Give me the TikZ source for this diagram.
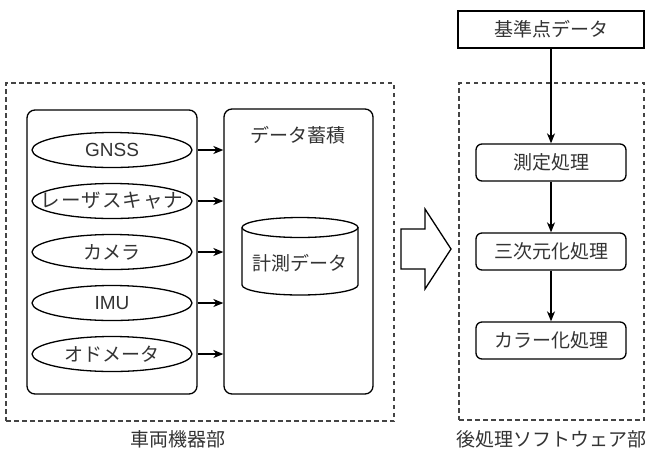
\documentclass[tikz,border=0pt]{standalone}
\usepackage{fontspec}
\setmainfont{Noto Sans CJK JP}
\newfontfamily\latinfont{Liberation Sans}
\usetikzlibrary{arrows.meta,shapes.geometric}
\definecolor{ink}{HTML}{333333}
\definecolor{dashc}{HTML}{444444}
\begin{document}
\begin{tikzpicture}[x=1pt,y=-1pt,
  every node/.style={font=\fontsize{19}{21}\selectfont, text=ink, inner sep=0pt},
  grp/.style={draw=dashc, line width=1.3pt, dash pattern=on 4.5pt off 3.5pt},
  bigbox/.style={draw, line width=1.3pt, rounded corners=8pt},
  ell/.style={line width=1.3pt},
  procbox/.style={draw, line width=1.3pt, rounded corners=6pt, minimum width=150pt, minimum height=37pt},
  refbox/.style={draw, line width=1.3pt, minimum width=186pt, minimum height=37pt},
  arr/.style={line width=1.3pt, -{Stealth[length=10pt,width=8pt,inset=3pt]}}
]
\useasboundingbox (0,0) rectangle (647,448);
\fill[white] (0,0) rectangle (647,448);

% group frames
\node[grp, minimum width=388pt, minimum height=338pt] (vehgrp) at (200,252) {};
\node[grp, minimum width=185pt, minimum height=337pt] (postgrp) at (551.5,251.5) {};

% sensor container and data box
\node[bigbox, minimum width=170pt, minimum height=284pt] (sensors) at (112,252) {};
\node[bigbox, minimum width=149pt, minimum height=285pt] (store) at (298.5,251.5) {};
\node (storetitle) at (298,135) {データ蓄積};

% sensors (fixed-size ellipses)
\foreach \yy in {150,201,252,303,354}{
  \draw[ell] (112,\yy) ellipse [x radius=80pt, y radius=17.5pt];
}
\node (g1) at (112,150) {\latinfont GNSS};
\node (g2) at (112,201) {\fontsize{19.5}{21}\selectfont レ\kern1pt ー\kern1pt ザ\kern1pt ス\kern1pt キ\kern1pt ャ\kern1pt ナ};
\node (g3) at (112,252) {カメラ};
\node (g4) at (112,303) {\latinfont IMU};
\node (g5) at (112,354) {オドメータ};

\foreach \s in {g1,g2,g3,g4,g5}{
  \draw[arr] (sensors.east |- \s) -- (store.west |- \s);
}

% cylinder
\draw[line width=1.3pt] (300,227.5) ellipse [x radius=58pt, y radius=10pt];
\draw[line width=1.3pt] (242,227.5) -- (242,285)
   arc[start angle=180, end angle=360, x radius=58pt, y radius=10pt] -- (358,227.5);
\node (meas) at (300,263) {計測データ};

% block arrow
\draw[line width=1.3pt, line join=miter] (401,229) -- (425,229) -- (425,209) -- (451,249)
   -- (425,289) -- (425,269) -- (401,269) -- cycle;

% post-processing
\node[refbox] (ref) at (551,29.5) {基準点データ};
\node[procbox] (p1) at (551,162.5) {測定処理};
\node[procbox] (p2) at (551,251.5) {三次元化処理};
\node[procbox] (p3) at (551,340.5) {カラー化処理};
\draw[arr] (ref) -- (p1);
\draw[arr] (p1) -- (p2);
\draw[arr] (p2) -- (p3);

% labels
\node (lab1) at (178,439) {車両機器部};
\node (lab2) at (551,439) {後処理ソフトウェア部};
\end{tikzpicture}
\end{document}
